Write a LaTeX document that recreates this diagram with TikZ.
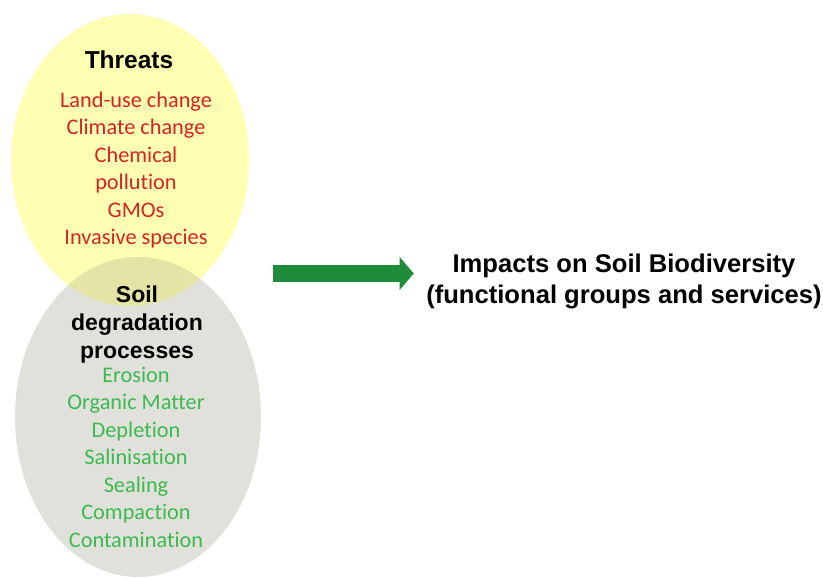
\documentclass[tikz,border=0pt]{standalone}
\usepackage{fontspec}
\setmainfont{Liberation Sans}
\newfontfamily\calibri[Ligatures=NoCommon]{Carlito}
\usetikzlibrary{shapes.geometric,arrows.meta}

\definecolor{threatfill}{HTML}{FFFFB4}
\definecolor{soilfill}{HTML}{E1E1DB}
\definecolor{overlapfill}{HTML}{E4E4A4}
\definecolor{threatred}{HTML}{D42424}
\definecolor{soilgreen}{HTML}{3CB950}
\definecolor{arrowgreen}{HTML}{1E8C3A}

\tikzset{
  blob/.style={ellipse,inner sep=0pt},
  heading/.style={align=center,font=\bfseries\fontsize{23}{28}\selectfont},
  itemlist/.style={align=center,font=\calibri\fontsize{22.3}{27.5}\selectfont},
  bigarrow/.style={line width=17pt,arrowgreen,-{Triangle[length=14pt,width=32pt]}}
}

\begin{document}
\begin{tikzpicture}[x=1pt,y=-1pt]
  \useasboundingbox (0,0) rectangle (823,579);
  \node[blob,fill=threatfill,minimum width=238pt,minimum height=292pt] (threats) at (130,160) {};
  \node[blob,fill=soilfill,minimum width=246pt,minimum height=320pt] (soil) at (138,417) {};
  \begin{scope}
    \clip (130,160) ellipse (119pt and 146pt);
    \fill[overlapfill] (138,417) ellipse (123pt and 160pt);
  \end{scope}
  \node[heading,font=\bfseries\fontsize{24.5}{28}\selectfont] (threatstitle) at (129,60) {Threats};
  \node[itemlist,threatred] (threatlist) at (136,170) {Land-use change\\Climate change\\Chemical\\pollution\\GMOs\\Invasive species};
  \node[heading] (soiltitle) at (137,325) {Soil\\degradation\\processes};
  \node[itemlist,soilgreen] (soillist) at (136,457) {Erosion\\Organic Matter\\Depletion\\Salinisation\\Sealing\\Compaction\\Contamination};
  \node[heading,font=\bfseries\fontsize{25.6}{31}\selectfont] (impacts) at (624,281) {Impacts on Soil Biodiversity\\(functional groups and services)};
  \coordinate (arrowtail) at (273,273.5);
  \draw[bigarrow,shorten >=9pt] (arrowtail) -- (impacts.west |- arrowtail);
\end{tikzpicture}
\end{document}
